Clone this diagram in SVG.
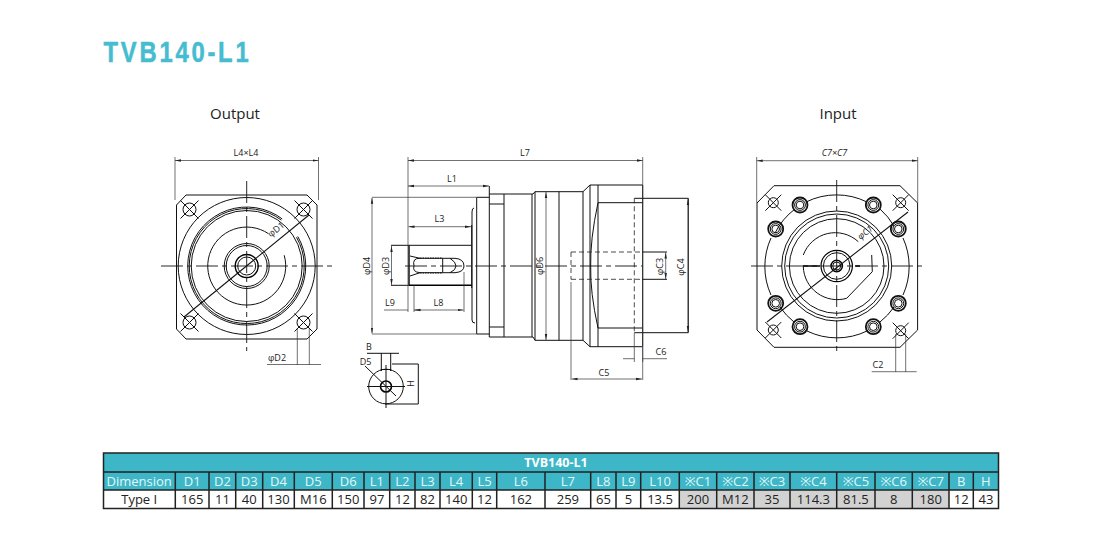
<svg xmlns="http://www.w3.org/2000/svg" width="1100" height="550" viewBox="0 0 1100 550">
<style>
text{font-family:"Open Sans","Noto Sans",sans-serif;fill:#222}
.l{fill:none;stroke:#111;stroke-width:1}
.t{fill:none;stroke:#000;stroke-width:1.4}
.g{fill:none;stroke:#111;stroke-width:1.05}
.d{fill:none;stroke:#333;stroke-width:.7}
.c{fill:none;stroke:#111;stroke-width:.9;stroke-dasharray:22 4 5 4}
.h{fill:none;stroke:#222;stroke-width:.8;stroke-dasharray:5 3}
.a{fill:none;stroke:#333;stroke-width:.7;marker-start:url(#ar);marker-end:url(#ae)}
.s{font-size:9px;text-anchor:middle}
.v{font-size:15px;text-anchor:middle}
.th{fill:#e4f6f8;font-size:13px;text-anchor:middle}
.td{font-size:13px;text-anchor:middle}
.hc{fill:#3db6c7}
.gr{fill:#d2d2d2}
.gl{stroke:#222;stroke-width:1.5;fill:none}
</style>
<defs>
<marker id="ae" markerWidth="7" markerHeight="4" refX="6" refY="2" orient="auto" markerUnits="userSpaceOnUse"><path d="M0 .8L6 2L0 3.2z" fill="#222"/></marker>
<marker id="ar" markerWidth="7" markerHeight="4" refX="0" refY="2" orient="auto" markerUnits="userSpaceOnUse"><path d="M6 .8L0 2L6 3.2z" fill="#222"/></marker>
<g id="xh"><circle class="l" r="6.500"/><path class="l" d="M-9-9L9 9M-9 9L9-9"/></g>
<g id="xs"><circle class="l" r="5"/><path class="l" d="M-8-8L8 8M-8 8L8-8"/></g>
<g id="bolt"><circle r="7.500" fill="none" stroke="#111" stroke-width="1.800"/><circle class="l" r="5.400"/><circle class="l" r="3.800"/></g>
</defs>

<text id="title" transform="translate(103.500 62) scale(.82 1)" font-size="29" font-weight="700" letter-spacing="3.400" stroke="#45bcd0" stroke-width=".5" style="font-family:'Liberation Sans',sans-serif;fill:#45bcd0">TVB140-L1</text>
<text class="v" x="235" y="119">Output</text>
<text class="v" x="838" y="119">Input</text>

<g id="output-view">
<path class="l" d="M186 195H307L317 205V329L307 339H186L176.500 329V205Z"/>
<circle class="l" cx="246.700" cy="266" r="68.500"/>
<path class="l" d="M297.800 236.500A59 59 0 1 1 282.200 218.900M296.500 237.250A57.500 57.500 0 1 1 281.300 220.100"/>
<circle class="l" cx="246.700" cy="266" r="55.500"/>
<path class="l" d="M284.200 255.250A39 39 0 1 1 268.500 233.700"/>
<circle class="l" cx="246.700" cy="266" r="22.500"/><circle class="l" cx="246.700" cy="266" r="20.500"/><circle class="t" cx="246.700" cy="266" r="11.500"/><circle class="l" cx="246.700" cy="266" r="9"/>
<use href="#xh" x="189.500" y="209.500"/><use href="#xh" x="303.500" y="209.500"/><use href="#xh" x="189.500" y="322.500"/><use href="#xh" x="303.500" y="322.500"/>
<path class="c" d="M161 266H332M246.700 181V351"/>
<path class="g" d="M184 317L309 215"/>
<text class="s" transform="translate(278 232) rotate(-38)">φD1</text>
<path class="d" d="M175 157V200M318.500 157V200"/>
<path class="a" d="M175 160.500H318.500"/>
<text class="s" x="246" y="156">L4×L4</text>
<path class="d" d="M297.300 328V365M309.300 328V365M267 364.500H321"/>
<text class="s" x="277" y="361">φD2</text>
</g>

<g id="side-view">
<path class="l" d="M476.700 197.300V334M489.300 186V337M489.300 194H504V337H489.300M489.300 204H504M489.300 327H504M476.700 197.300H489.300M476.700 334H489.300M504 194H533L535 191.700H583L590 185H642.700V346.700H590L583 340.300H535L533 337H504M532 194V337M535 191.700V340.300M559 191.700V340.300M583 191.700V340.300M590 185V346.700M598 185V346.700M598 202.700H642.700M598 328H642.700"/>
<path class="l" d="M598 202.700Q590 240 590.700 266Q590 292 598 328"/>
<path class="h" d="M634.300 198.300V332.700M571 252H642M571 279.300H642M571 252V279.300"/>
<path class="l" d="M642 198.300H688.300V332.700H634.300M642 252H667M642 279.300H667M634.300 198.300H642"/>
<path class="a" d="M665.700 252.500V279"/>
<path class="l" d="M474 208Q472 208 472 212V320Q472 323 475 323M471.700 225V288"/>
<path class="t" d="M409 245.300V285.300M409 285.300H471.700"/>
<path class="l" d="M391 245.300H471.700M391 285.300H409"/>
<path class="l" d="M410 256L420 258.300H442.700M410 276L420 272.700H442.700M420 258.300Q412 258 414 266Q412 272 420 272.700M442.700 258.300H455Q464 259 464 266Q464 272 455 272.700H442.700M442.700 258.300V272.700M450 258.300Q456 262 456 266Q456 270 450 272.700"/>
<path d="M420 258.300H442.700M420 272.700H442.700" fill="none" stroke="#222" stroke-width="1.500" stroke-dasharray="1.500 1"/>
<path class="c" d="M405 266H642"/>
<path class="d" d="M408 157V312M642.700 157V380M571 282V380M414 285V312M464 272V312M372 197.300H476.700M372 334H476.700M634.300 333V362M642.700 347V362"/>
<path class="a" d="M408 160.500H642.700"/>
<path class="a" d="M408 186H489"/>
<path class="a" d="M408.500 226.700H471"/>
<path class="a" d="M391.500 246V285"/>
<path class="a" d="M372 197.800V333.500"/>
<path class="a" d="M414.500 310H463.500"/>
<path class="d" d="M384 310H408M414 310H418"/>
<path class="a" d="M546 192V340"/>
<path class="a" d="M688 199V332"/>
<path class="a" d="M571.500 379H642"/>
<path class="d" d="M623 358.700H634.300M642.700 358.700H667"/>
<text class="s" x="525" y="156">L7</text>
<text class="s" x="452" y="182">L1</text>
<text class="s" x="439.500" y="222">L3</text>
<text class="s" x="390" y="305.500">L9</text>
<text class="s" x="438.500" y="305.500">L8</text>
<text class="s" transform="translate(389 266) rotate(-90)">φD3</text>
<text class="s" transform="translate(369.500 266) rotate(-90)">φD4</text>
<text class="s" transform="translate(543 266) rotate(-90)">φD6</text>
<text class="s" transform="translate(662.500 266.500) rotate(-90)">φC3</text>
<text class="s" transform="translate(684 267) rotate(-90)">φC4</text>
<text class="s" x="661" y="354.500">C6</text>
<text class="s" x="604" y="375.500">C5</text>
</g>

<g id="key-section">
<circle class="l" cx="386" cy="386.500" r="17.300"/>
<circle cx="386" cy="386.500" r="5.500" fill="none" stroke="#000" stroke-width="1.600"/>
<path class="l" d="M381.300 353V371M390.700 353V371M381.300 371V369.500H390.700V371M367 353.300H399M392 364H418.300V404H385M365 366L396 396M367 386.500H405M386 365V408"/>
<text class="s" x="369" y="350">B</text>
<text class="s" x="365.500" y="365">D5</text>
<text class="s" transform="translate(414 383.500) rotate(-90)">H</text>
</g>

<g id="input-view">
<path class="l" d="M774 185.700H900L917.600 203V330L900 347.300H774L757 330V203Z"/>
<path class="l" d="M775 233A69 69 0 0 1 795 209M806 202A69 69 0 0 1 867 202M880 209A69 69 0 0 1 894 226M903 238A69 69 0 0 1 903 295M894 307A69 69 0 0 1 880 322M867 331A69 69 0 0 1 807 331M794 322A69 69 0 0 1 780 307M771 295A69 69 0 0 1 771 238"/>
<circle class="l" cx="836.700" cy="266" r="55"/><circle class="l" cx="836.700" cy="266" r="52"/><circle class="l" cx="836.700" cy="266" r="47.300"/>
<path class="l" d="M803.300 255A34 34 0 0 1 858.300 241.700M871.700 255L872.300 271.700L846.700 298.300A34 34 0 0 1 803.300 266.700"/>
<circle cx="836.700" cy="266" r="15.700" fill="none" stroke="#000" stroke-width="1.200"/><circle class="l" cx="836.700" cy="266" r="13.300"/>
<circle cx="836.700" cy="266" r="5.700" fill="none" stroke="#000" stroke-width="1.500"/><circle class="l" cx="836.700" cy="266" r="4"/>
<use href="#bolt" x="800" y="205"/><use href="#bolt" x="873.300" y="205"/><use href="#bolt" x="775.700" y="229"/><use href="#bolt" x="898.300" y="229"/><use href="#bolt" x="775.700" y="303.300"/><use href="#bolt" x="898.300" y="303.300"/><use href="#bolt" x="800" y="326.700"/><use href="#bolt" x="873.300" y="326.700"/>
<use href="#xs" x="773.300" y="202.700"/><use href="#xs" x="900.700" y="202.700"/><use href="#xs" x="773.300" y="330"/><use href="#xs" x="900.700" y="330.700"/>
<path class="c" d="M751 266H923M836.700 180V352"/>
<path d="M803 266H820M855 266H860" fill="none" stroke="#000" stroke-width="1.600"/>
<path class="g" d="M767 322L908 212"/>
<text class="s" style="font-style:italic" transform="translate(867 235) rotate(-38)">φC1</text>
<path class="d" d="M756.700 157V203M917.700 157V203"/>
<path class="a" d="M756.700 160.700H917.700"/>
<text class="s" style="font-style:italic" x="834.500" y="156">C7×C7</text>
<path class="d" d="M895.700 334V372M905.700 334V372M871.700 371.700H916.700"/>
<text class="s" x="878" y="368">C2</text>
</g>

<g id="spec-table">
<rect class="hc" x="103.500" y="453" width="895" height="37"/>
<rect fill="#fff" x="103.500" y="490" width="895" height="18.500"/>
<rect class="gr" x="679.300" y="490" width="269.700" height="18.500"/>
<path class="gl" d="M103.500 453H998.500V508.500H103.500ZM103.500 472H998.500M103.500 490H998.500"/>
<path class="gl" d="M175.300 472V508.500M209 472V508.500M235.700 472V508.500M262.700 472V508.500M294.300 472V508.500M332.300 472V508.500M364 472V508.500M389.700 472V508.500M415 472V508.500M440 472V508.500M472.300 472V508.500M496.700 472V508.500M545 472V508.500M590.700 472V508.500M616 472V508.500M640.700 472V508.500M679.300 472V508.500M716.700 472V508.500M754 472V508.500M790 472V508.500M836.700 472V508.500M875 472V508.500M912.300 472V508.500M949 472V508.500M973.300 472V508.500"/>
<text x="556" y="466.500" style="fill:#fff" font-size="12.500" font-weight="700" text-anchor="middle">TVB140-L1</text>
<g>
<text class="th" x="139.200" y="485.500">Dimension</text><text class="th" x="192.200" y="485.500">D1</text><text class="th" x="222.400" y="485.500">D2</text><text class="th" x="249.200" y="485.500">D3</text><text class="th" x="278.500" y="485.500">D4</text><text class="th" x="313.300" y="485.500">D5</text><text class="th" x="348.200" y="485.500">D6</text><text class="th" x="376.900" y="485.500">L1</text><text class="th" x="402.400" y="485.500">L2</text><text class="th" x="427.500" y="485.500">L3</text><text class="th" x="456.200" y="485.500">L4</text><text class="th" x="484.500" y="485.500">L5</text><text class="th" x="520.900" y="485.500">L6</text><text class="th" x="567.900" y="485.500">L7</text><text class="th" x="603.400" y="485.500">L8</text><text class="th" x="628.400" y="485.500">L9</text><text class="th" x="660" y="485.500">L10</text><text class="th" x="698" y="485.500">※C1</text><text class="th" x="735.400" y="485.500">※C2</text><text class="th" x="772" y="485.500">※C3</text><text class="th" x="813.400" y="485.500">※C4</text><text class="th" x="855.900" y="485.500">※C5</text><text class="th" x="893.700" y="485.500">※C6</text><text class="th" x="930.700" y="485.500">※C7</text><text class="th" x="961.200" y="485.500">B</text><text class="th" x="985.900" y="485.500">H</text>
</g>
<g>
<text class="td" x="139.200" y="504">Type I</text><text class="td" x="192.200" y="504">165</text><text class="td" x="222.400" y="504">11</text><text class="td" x="249.200" y="504">40</text><text class="td" x="278.500" y="504">130</text><text class="td" x="313.300" y="504">M16</text><text class="td" x="348.200" y="504">150</text><text class="td" x="376.900" y="504">97</text><text class="td" x="402.400" y="504">12</text><text class="td" x="427.500" y="504">82</text><text class="td" x="456.200" y="504">140</text><text class="td" x="484.500" y="504">12</text><text class="td" x="520.900" y="504">162</text><text class="td" x="567.900" y="504">259</text><text class="td" x="603.400" y="504">65</text><text class="td" x="628.400" y="504">5</text><text class="td" x="660" y="504">13.5</text><text class="td" x="698" y="504">200</text><text class="td" x="735.400" y="504">M12</text><text class="td" x="772" y="504">35</text><text class="td" x="813.400" y="504">114.3</text><text class="td" x="855.900" y="504">81.5</text><text class="td" x="893.700" y="504">8</text><text class="td" x="930.700" y="504">180</text><text class="td" x="961.200" y="504">12</text><text class="td" x="985.900" y="504">43</text>
</g>
</g>
</svg>
